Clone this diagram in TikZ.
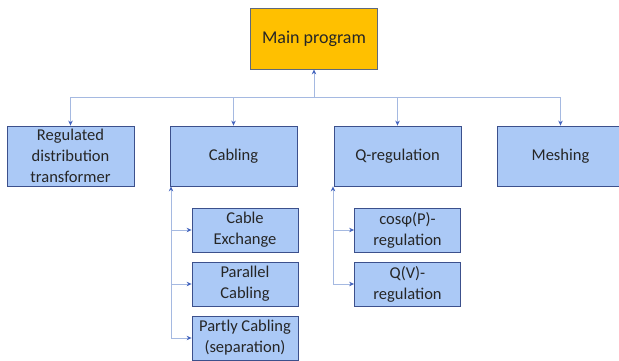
\documentclass[tikz,border=0pt]{standalone}
\usepackage{fontspec}
\setmainfont{Carlito}
\usetikzlibrary{arrows.meta}
\definecolor{mainfill}{RGB}{255,192,0}
\definecolor{mainline}{RGB}{95,105,125}
\definecolor{boxfill}{RGB}{171,201,246}
\definecolor{boxline}{RGB}{60,80,140}
\definecolor{linkline}{RGB}{165,185,225}
\definecolor{tipcol}{RGB}{68,100,190}
\begin{document}
\begin{tikzpicture}[x=1pt,y=-1pt,
    box/.style={draw=boxline,fill=boxfill,line width=0.8pt,minimum width=127pt,minimum height=60pt,
      inner sep=0pt,align=center,font=\fontsize{16.5}{21}\selectfont,text=black!85},
    subbox/.style={box,minimum width=106pt,minimum height=44pt},
    link/.style={draw=linkline,line width=0.9pt,-{Stealth[length=5pt,width=4.5pt,color=tipcol]}}]
  \useasboundingbox (0,0) rectangle (619,361);
  % top level
  \node[box,fill=mainfill,draw=mainline,minimum height=61pt,font=\fontsize{18}{22}\selectfont] (main) at (314,38.5) {Main program};
  \node[box] (reg) at (70.5,156) {Regulated\\distribution\\transformer};
  \node[box] (cab) at (233.5,156) {Cabling};
  \node[box] (qreg) at (397.5,156) {Q-regulation};
  \node[box] (mesh) at (560.5,156) {Meshing};
  % sub programs
  \node[subbox] (exch) at (245,230) {Cable\\Exchange};
  \node[subbox] (par) at (245,284) {Parallel\\Cabling};
  \node[subbox] (part) at (245,338) {Partly Cabling\\(separation)};
  \node[subbox] (cosphi) at (407.5,230) {cosφ(P)-\\regulation};
  \node[subbox] (qv) at (407.5,284) {Q(V)-\\regulation};
  % bus to the main program
  \coordinate (bus) at (314,97);
  \draw[link] (bus) -- (main);
  \foreach \n in {reg,cab,qreg,mesh}
    \draw[link] (bus) -| (\n.north);
  % branches
  \coordinate (cabend) at (171,338);
  \coordinate (qend) at (333,284);
  \draw[link] (cabend) -- (cabend |- cab.south);
  \draw[link] (qend) -- (qend |- qreg.south);
  \foreach \n in {exch,par,part}
    \draw[link] (cabend |- \n.west) -- (\n.west);
  \foreach \n in {cosphi,qv}
    \draw[link] (qend |- \n.west) -- (\n.west);
\end{tikzpicture}
\end{document}
